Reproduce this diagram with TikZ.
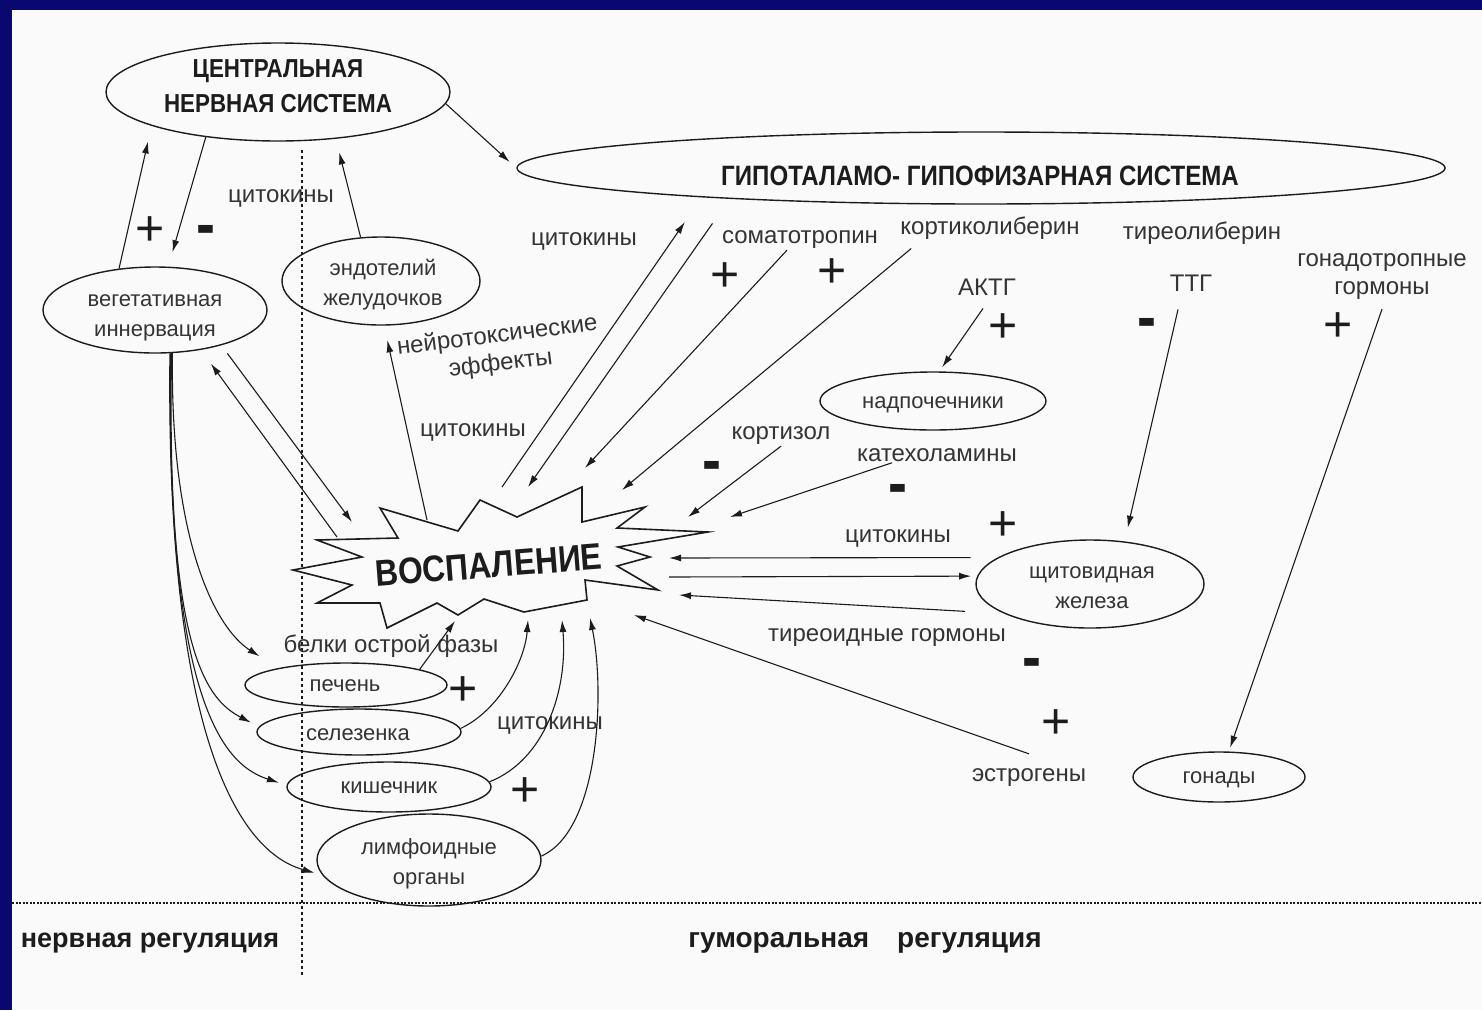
\documentclass[tikz,border=0pt]{standalone}
\usepackage{fontspec}
\setmainfont{Liberation Sans}
\newfontfamily\narrowfont{Liberation Sans}[FakeStretch=0.86]
\usepackage{graphicx}
\usepackage{tikz}
\usetikzlibrary{shapes.geometric, arrows.meta, calc}
\usepackage{xcolor}
\definecolor{framenavy}{RGB}{8, 8, 112}
\definecolor{paper}{RGB}{250, 250, 250}
\definecolor{ink}{RGB}{28, 28, 28}
\definecolor{softink}{RGB}{52, 52, 52}
\newcommand{\negmark}{\scalebox{1.9}[2.2]{-}}
\tikzset{
    organ/.style={
        ellipse,
        draw=ink,
        line width=1.4pt,
        inner sep=0pt
    },
    organtext/.style={
        inner sep=1pt,
        align=center,
        text=softink,
        font=\fontsize{22}{30}\selectfont
    },
    systemtext/.style={
        inner sep=1pt,
        align=center,
        text=ink,
        font=\narrowfont\bfseries\fontsize{26}{35}\selectfont
    },
    note/.style={
        text=softink,
        inner sep=1pt,
        align=center,
        font=\fontsize{24}{28}\selectfont
    },
    plussign/.style={
        text=ink,
        inner sep=0pt,
        font=\fontsize{50}{50}\selectfont
    },
    minussign/.style={
        text=ink,
        inner sep=0pt,
        anchor=base,
        yshift=-17pt,
        font=\bfseries\fontsize{30}{30}\selectfont
    },
    link/.style={
        -{Latex[length=12pt, width=7pt]},
        line width=1.1pt,
        draw=ink
    },
    divider/.style={
        line width=1.2pt,
        draw=ink,
        dash pattern=on 3pt off 3pt
    }
}

\begin{document}
\begin{tikzpicture}[
    x=1pt, y=-1pt,
    burst/.style={draw=ink, line width=1.6pt, fill=paper, line join=miter},
    zone/.style={text=ink, font=\bfseries\fontsize{27}{30}\selectfont}
]

% Frame and sheet
\fill[framenavy] (0,0) rectangle (1482,1010);
\fill[paper] (12,10) rectangle (1482,1010);
\useasboundingbox (0,0) rectangle (1482,1010);

% === REGULATION ZONES ===
\draw[divider] (302,150) -- (302,977);
\draw[divider, dash pattern=on 2pt off 1.5pt] (12,903) -- (1482,903);
\node[zone] (nervreg) at (150,943) {нервная регуляция};
\node[zone, font=\bfseries\fontsize{28}{30}\selectfont] (humreg) at (865,943) {гуморальная\hspace{1em}регуляция};

% === SYSTEMS ===
\node[organ, minimum width=344pt, minimum height=98pt] (cns) at (278,92) {};
\node[systemtext] (cnstext) at (278,86) {ЦЕНТРАЛЬНАЯ\\НЕРВНАЯ СИСТЕМА};
\node[organ, minimum width=928pt, minimum height=72pt] (hps) at (981,168) {};
\node[systemtext, font=\narrowfont\bfseries\fontsize{28}{34}\selectfont]
     (hpstext) at (980,176) {ГИПОТАЛАМО- ГИПОФИЗАРНАЯ СИСТЕМА};

% === ORGANS ===
\node[organ, minimum width=224pt, minimum height=86pt] (veg) at (155,310) {};
\node[organtext] (vegtext) at (155,318) {вегетативная\\иннервация};
\node[organ, minimum width=198pt, minimum height=88pt] (endo) at (381,281) {};
\node[organtext] (endotext) at (383,285) {эндотелий\\желудочков};
\node[organ, minimum width=226pt, minimum height=58pt] (adrenal) at (933,401) {};
\node[organtext] (adrenaltext) at (933,405) {надпочечники};
\node[organ, minimum width=228pt, minimum height=88pt] (thyr) at (1090,584) {};
\node[organtext] (thyrtext) at (1092,588) {щитовидная\\железа};
\node[organ, minimum width=172pt, minimum height=50pt] (gonad) at (1219,777) {};
\node[organtext] (gonadtext) at (1219,780) {гонады};
\node[organ, minimum width=202pt, minimum height=44pt] (liver) at (346,685) {};
\node[organtext] (livertext) at (345,686) {печень};
\node[organ, minimum width=204pt, minimum height=46pt] (spleen) at (359,732) {};
\node[organtext] (spleentext) at (358,735) {селезенка};
\node[organ, minimum width=204pt, minimum height=50pt] (gut) at (389,787) {};
\node[organtext] (guttext) at (389,788) {кишечник};
\node[organ, minimum width=224pt, minimum height=92pt] (lymph) at (429,860) {};
\node[organtext] (lymphtext) at (429,864) {лимфоидные\\органы};

% === INFLAMMATION ===
\draw[burst] (293,570) -- (362,557) -- (317,540) -- (398,538) -- (380,508)
    -- (458,531) -- (480,500) -- (517,517) -- (582,487) -- (582,522)
    -- (645,507) -- (617,528) -- (708,532) -- (618,547) -- (650,557)
    -- (617,566) -- (658,590) -- (585,580) -- (587,600) -- (524,612)
    -- (484,599) -- (458,615) -- (437,603) -- (387,628) -- (380,603)
    -- (317,603) -- (352,585) -- cycle;
\node[font=\narrowfont\bfseries\fontsize{37}{40}\selectfont, text=ink, rotate=4.5]
     (infl) at (489,565) {ВОСПАЛЕНИЕ};

% Ports round the burst
\coordinate (pEndo) at (427,520);
\coordinate (pVegOut) at (337,537);
\coordinate (pVegIn) at (352,522);
\coordinate (pHpsOut) at (502,487);
\coordinate (pHpsIn) at (528,487);
\coordinate (pSomat) at (585,468);
\coordinate (pCrh) at (622,490);
\coordinate (pCort) at (688,517);
\coordinate (pCat) at (730,517);
\coordinate (pThyIn) at (669,558);
\coordinate (pThyOut) at (669,577);
\coordinate (pThyHorm) at (679,595);
\coordinate (pEstro) at (634,615);
\coordinate (pLiver) at (455,621);
\coordinate (pSpleen) at (528,620);
\coordinate (pGut) at (562,620);
\coordinate (pLymph) at (590,618);

% === LABELS ===
\node[note] (cyt1) at (281,198) {цитокины};
\node[note] (cyt2) at (584,241) {цитокины};
\node[note] (somat) at (800,240) {соматотропин};
\node[note] (crh) at (990,228) {кортиколиберин};
\node[note] (trh) at (1202,233) {тиреолиберин};
\node[note] (actg) at (987,287) {АКТГ};
\node[note] (ttg) at (1191,283) {ТТГ};
\node[note] (gtg) at (1382,277) {гонадотропные\\гормоны};
\node[note, rotate=7] (neuro) at (499,350) {нейротоксические\\эффекты};
\node[note] (cyt3) at (473,432) {цитокины};
\node[note] (cortisol) at (781,436) {кортизол};
\node[note] (catechol) at (937,455) {катехоламины};
\node[note] (cyt4) at (898,538) {цитокины};
\node[note] (thyhorm) at (887,638) {тиреоидные гормоны};
\node[note] (estro) at (1029,778) {эстрогены};
\node[note] (app) at (391,646) {белки острой фазы};
\node[note] (cyt5) at (550,725) {цитокины};

% Signs
\foreach \x/\y [count=\i] in {150/231, 725/277, 832/273, 1003/328, 1338/327,
                              1003/526, 463/691, 525/792, 1056/724}
    \node[plussign] (plus\i) at (\x,\y) {+};
\foreach \x/\y [count=\i] in {206/229, 712/465, 898/488, 1147/322, 1032/662}
    \node[minussign] (minus\i) at (\x,\y) {\negmark};

% === CONNECTORS ===

% Nervous loop
\draw[link, shorten >=15pt] (cns.212) -- (veg.73);
\draw[link, shorten >=16pt] (veg.131) -- (cns.195);
\draw[link, shorten >=9pt] (cns.356) -- (hps.west);
\draw[link, shorten >=14pt] (endo.115) -- (cns.321);
\draw[link, shorten >=15pt] (pEndo) -- (endo.274);
\draw[link, shorten >=17pt] (pVegOut) -- (veg.319);
\draw[link, shorten <=10pt] (veg.332) -- (pVegIn);

% Hypothalamic-pituitary axis
\draw[link, shorten >=30pt] (pHpsOut) -- (hps.186);
\draw[link, shorten <=30pt] (hps.187) -- (pHpsIn);
\draw[link] ([xshift=-13pt]somat.south) -- (pSomat);
\draw[link] ([xshift=12pt, yshift=-8pt]crh.south west) -- (pCrh);
\draw[link] (cortisol.south) -- (pCort);
\draw[link] ([xshift=-45pt]catechol.south) -- (pCat);
\draw[link, shorten >=5pt] ([xshift=-4pt, yshift=-12pt]actg.south) -- (adrenal.78);
\draw[link, shorten >=14pt] ([xshift=-13pt, yshift=-17pt]ttg.south) -- (thyr.51);
\draw[link, shorten >=4pt] ([yshift=-8pt]gtg.south) -- (gonad.69);

% Thyroid exchange
\draw[link, shorten <=27pt] (thyr.164) -- (pThyIn);
\draw[link, shorten >=6pt] (pThyOut) -- (thyr.176);
\draw[link, shorten <=39pt] (thyr.199) -- (pThyHorm);
\draw[link] ([yshift=14pt]estro.north) -- (pEstro);

% Innervation of organs
\draw[link, shorten >=22pt] (veg.292) .. controls (170,540) and (215,628) .. (liver.166);
\draw[link, shorten >=9pt] (veg.291) .. controls (166,650) and (206,699) .. (spleen.177);
\draw[link, shorten >=8pt] (veg.290) .. controls (165,720) and (231,767) .. (gut.179);
\draw[link, shorten >=8pt] (veg.289) .. controls (165,800) and (265,859) .. (lymph.188);

% Organs back to the burst
\draw[link] (liver.12) -- (pLiver);
\draw[link] (spleen.2) .. controls (500,710) and (525,660) .. (pSpleen);
\draw[link] (gut.3) .. controls (545,760) and (568,690) .. (pGut);
\draw[link] (lymph.2) .. controls (600,830) and (605,690) .. (pLymph);

\end{tikzpicture}
\end{document}
